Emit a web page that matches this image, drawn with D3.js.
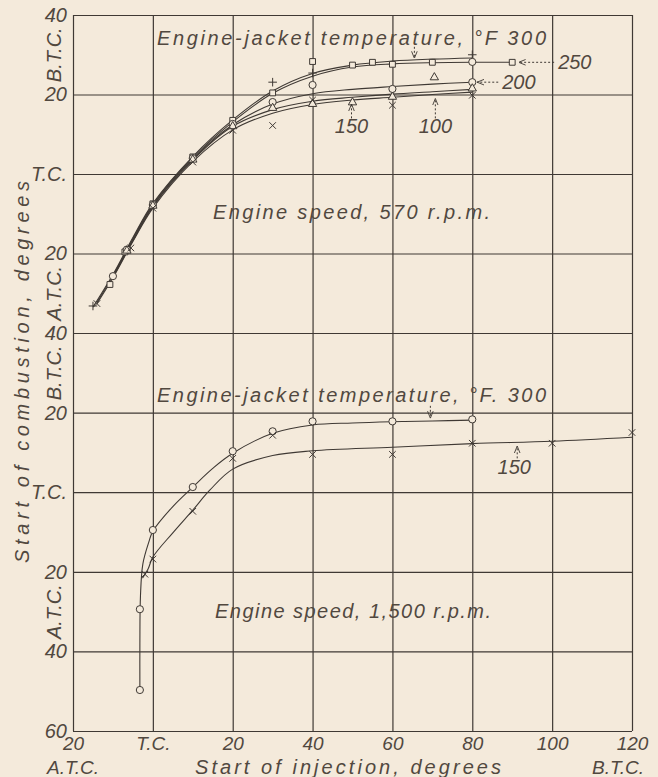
<!DOCTYPE html>
<html>
<head>
<meta charset="utf-8">
<script src="https://cdn.jsdelivr.net/npm/d3@7"></script>
<style>
body { margin: 0; background: #f4eadb; }
svg { display: block; }
text { font-family: "Liberation Sans", Arial, sans-serif; font-style: italic; fill: #51483f; }
</style>
</head>
<body>
<script>
const width = 658;
const height = 777;
const ink = '#3f3934';
const paper = '#f4eadb';

// axis ticks and labels
const xTicks = [-20, 0, 20, 40, 60, 80, 100, 120];
const xTickLabels = ['20', 'T.C.', '20', '40', '60', '80', '100', '120'];
const topTicks = [40, 20, 0, -20, -40];
const topTickLabels = ['40', '20', 'T.C.', '20', '40'];
const botTicks = [20, 0, -20, -40, -60];
const botTickLabels = ['20', 'T.C.', '20', '40', '60'];

// 570 r.p.m. : [start of injection, start of combustion] (B.T.C. positive)
const s300Curve = [[-15,-33.5],[-10,-25.3],[-5,-16],[0,-7.4],[10,4.4],[20,13.6],[30,20.9],[40,25.3],[50,27.4],[60,28.4],[70,28.9],[80,29.2]];
const s300Marks = [[-15,-33.2],[30,23.1],[40,25.4],[80,30]];
const s250Curve = [[-14,-32.3],[-10,-25.6],[-5,-16.3],[0,-7.7],[10,4.1],[20,13.1],[30,20.3],[40,24.6],[50,26.9],[60,27.7],[70,28],[80,28.1],[90,28.1]];
const s250Marks = [[-10.75,-27.8],[-7,-19.6],[0,-7.5],[10,4.3],[20,13.5],[30,20.4],[40,28.3],[50,27.4],[55,28.1],[60,27.6],[70,28.1],[90,28.1]];
const s200Curve = [[-10,-25.9],[-5,-16.6],[0,-8],[10,3.8],[20,12.4],[30,17.6],[40,20.2],[50,21.3],[60,22],[70,22.6],[80,23.1]];
const s200Marks = [[-10,-25.7],[-6.5,-19],[0,-7.8],[10,4],[20,12.6],[30,18.1],[40,22.4],[60,21.4],[80,23.1],[80,28.2]];
const s150Curve = [[-10,-26],[-5,-16.8],[0,-8.2],[10,3.5],[20,12],[30,16.2],[40,18.3],[50,19.3],[60,20.1],[70,20.7],[80,21.3]];
const s150Marks = [[-6.5,-19.3],[0,-8],[10,3.6],[20,12],[30,16.6],[40,17.6],[50,18],[60,19.4],[70.5,24.3],[80,21.5]];
const s100Curve = [[-14,-32.6],[-10,-26.1],[-5,-17],[0,-8.6],[10,3.1],[20,11.1],[30,15.3],[40,17.5],[50,18.6],[60,19.3],[70,20],[80,20.6]];
const s100Marks = [[-14,-32.6],[-5.5,-18.6],[0,-8.6],[10,3],[20,11],[30,12.2],[40,18.6],[60,17.3],[80,19.8]];

// 1,500 r.p.m.
const f300Curve = [[-3.25,-50],[-3.25,-38],[-3.1,-26],[-2.5,-18],[-1,-12.5],[0,-9.8],[5,-3.6],[10,1.3],[15,6],[20,9.8],[30,14.8],[40,16.9],[50,17.4],[60,17.7],[70,17.9],[80,18.1]];
const f300Marks = [[-3.25,-49.7],[-3.25,-29.4],[0,-9.5],[10,1.3],[20,10.3],[30,15.3],[40,17.8],[60,17.8],[80,18.3]];
const f150Curve = [[-2.6,-21.6],[-1.2,-19.3],[0,-16.3],[5,-10.2],[10,-4.5],[14.25,0.5],[20,5.8],[30,9.2],[40,10.4],[60,11.3],[80,12.2],[100,12.8],[120,13.8]];
const f150Marks = [[-2,-20.6],[0,-16.8],[10,-4.8],[20,8.5],[30,14.3],[40,9.5],[60,9.5],[80,12.3],[100,12.3],[120,15]];

const x = d3.scaleLinear().domain([-20, 120]).range([73, 632]);
const yTop = d3.scaleLinear().domain([40, -40]).range([15, 333]);
const yBot = d3.scaleLinear().domain([40, -60]).range([333, 731]);

const svg = d3.select('body').append('svg')
    .attr('width', width)
    .attr('height', height);

svg.append('rect').attr('width', width).attr('height', height).attr('fill', paper);

const defs = svg.append('defs');
defs.append('marker')
    .attr('id', 'head')
    .attr('viewBox', '0 0 10 10')
    .attr('refX', 10).attr('refY', 5)
    .attr('markerWidth', 7).attr('markerHeight', 7)
    .attr('markerUnits', 'userSpaceOnUse')
    .attr('orient', 'auto')
    .append('path')
    .attr('d', 'M0,1 L10,5 L0,9')
    .attr('fill', 'none')
    .attr('stroke', ink)
    .attr('stroke-width', 1.3);

// grid
const grid = svg.append('g');
grid.append('g')
    .attr('transform', `translate(0,${yBot(-60)})`)
    .call(d3.axisBottom(x).tickValues(xTicks).tickSize(-(yBot(-60) - yTop(40))).tickFormat(''));
grid.append('g')
    .attr('transform', `translate(${x(-20)},0)`)
    .call(d3.axisLeft(yTop).tickValues(topTicks).tickSize(-(x(120) - x(-20))).tickFormat(''));
grid.append('g')
    .attr('transform', `translate(${x(-20)},0)`)
    .call(d3.axisLeft(yBot).tickValues(botTicks).tickSize(-(x(120) - x(-20))).tickFormat(''));
grid.selectAll('.domain').remove();
grid.selectAll('line').attr('stroke', ink).attr('stroke-width', 1.2);

// tick labels
const xAxis = svg.append('g')
    .attr('transform', `translate(0,${yBot(-60)})`)
    .call(d3.axisBottom(x).tickValues(xTicks).tickSize(0).tickPadding(6)
        .tickFormat((d, i) => xTickLabels[i]));
const yAxisTop = svg.append('g')
    .attr('transform', `translate(${x(-20)},0)`)
    .call(d3.axisLeft(yTop).tickValues(topTicks).tickSize(0).tickPadding(6)
        .tickFormat((d, i) => topTickLabels[i]));
const yAxisBot = svg.append('g')
    .attr('transform', `translate(${x(-20)},0)`)
    .call(d3.axisLeft(yBot).tickValues(botTicks).tickSize(0).tickPadding(6)
        .tickFormat((d, i) => botTickLabels[i]));
[xAxis, yAxisTop, yAxisBot].forEach(g => {
  g.select('.domain').remove();
  g.attr('font-family', null).attr('font-size', null);
  g.selectAll('text').attr('fill', null).style('font-size', '20px');
});
xAxis.selectAll('text').style('font-size', '19px');

// side labels
const side = [[yTop, 30, 'B.T.C.'], [yTop, -30, 'A.T.C.'], [yBot, 30, 'B.T.C.'], [yBot, -30, 'A.T.C.']];
svg.selectAll('.side')
    .data(side)
    .join('text')
    .attr('transform', d => `translate(61,${d[0](d[1])}) rotate(-90)`)
    .attr('text-anchor', 'middle')
    .style('font-size', '20px')
    .text(d => d[2]);

svg.append('text')
    .attr('x', x(-20)).attr('y', 774)
    .attr('text-anchor', 'middle')
    .style('font-size', '19px')
    .text('A.T.C.');
svg.append('text')
    .attr('x', 618).attr('y', 774)
    .attr('text-anchor', 'middle')
    .style('font-size', '19px')
    .text('B.T.C.');
svg.append('text')
    .attr('x', 195).attr('y', 774)
    .attr('textLength', 306)
    .attr('lengthAdjust', 'spacing')
    .style('font-size', '20px')
    .text('Start of injection, degrees');
svg.append('text')
    .attr('transform', 'translate(29,563) rotate(-90)')
    .attr('textLength', 382)
    .attr('lengthAdjust', 'spacing')
    .style('font-size', '20px')
    .text('Start of combustion, degrees');

// curves and points
const series = [
  {curve: s300Curve, marks: s300Marks, shape: 'plus', y: yTop},
  {curve: s250Curve, marks: s250Marks, shape: 'square', y: yTop},
  {curve: s200Curve, marks: s200Marks, shape: 'circle', y: yTop},
  {curve: s150Curve, marks: s150Marks, shape: 'triangle', y: yTop},
  {curve: s100Curve, marks: s100Marks, shape: 'times', y: yTop},
  {curve: f300Curve, marks: f300Marks, shape: 'circle', y: yBot},
  {curve: f150Curve, marks: f150Marks, shape: 'times', y: yBot}
];

const symbols = {
  plus: d3.symbol().type(d3.symbolPlus || d3.symbolCross).size(26),
  square: d3.symbol().type(d3.symbolSquare).size(34),
  triangle: d3.symbol().type(d3.symbolTriangle).size(30),
  times: d3.symbol().type(d3.symbolTimes || d3.symbolCross).size(30)
};

series.forEach(s => {
  const line = d3.line()
      .x(d => x(d[0]))
      .y(d => s.y(d[1]))
      .curve(d3.curveCatmullRom.alpha(0.5));
  svg.append('path')
      .datum(s.curve)
      .attr('d', line)
      .attr('fill', 'none')
      .attr('stroke', ink)
      .attr('stroke-width', 1.1);
});

series.forEach(s => {
  const g = svg.append('g');
  if (s.shape === 'circle') {
    g.selectAll('circle')
        .data(s.marks)
        .join('circle')
        .attr('cx', d => x(d[0]))
        .attr('cy', d => s.y(d[1]))
        .attr('r', 3.6)
        .attr('fill', paper)
        .attr('stroke', ink)
        .attr('stroke-width', 1);
  } else {
    const open = s.shape === 'square' || s.shape === 'triangle';
    g.selectAll('path')
        .data(s.marks)
        .join('path')
        .attr('transform', d => `translate(${x(d[0])},${s.y(d[1])})`)
        .attr('d', symbols[s.shape])
        .attr('fill', open ? paper : 'none')
        .attr('stroke', ink)
        .attr('stroke-width', 1);
  }
});

// annotations
const notes = [
  {y: yTop, from: [65.5, 32], to: [65.5, 29.1]},
  {y: yTop, from: [100.5, 28.1], to: [91.6, 28.1]},
  {y: yTop, from: [86.5, 23.1], to: [81.2, 23.1]},
  {y: yTop, from: [49.75, 14.0], to: [49.75, 17.6]},
  {y: yTop, from: [70.75, 14.0], to: [70.75, 19.0]},
  {y: yBot, from: [69.5, 21.7], to: [69.5, 18.6]},
  {y: yBot, from: [91.25, 8.5], to: [91.25, 11.6]}
];
notes.forEach(n => {
  svg.append('line')
      .attr('x1', x(n.from[0])).attr('y1', n.y(n.from[1]))
      .attr('x2', x(n.to[0])).attr('y2', n.y(n.to[1]))
      .attr('stroke', ink)
      .attr('stroke-width', 1)
      .attr('stroke-dasharray', '2,2')
      .attr('marker-end', 'url(#head)');
});

const labels = [
  {x: 101.5, y: yTop(28.1) + 7, anchor: 'start', text: '250'},
  {x: 87.5, y: yTop(23.1) + 7, anchor: 'start', text: '200'},
  {x: 49.75, y: yTop(14) + 15, anchor: 'middle', text: '150'},
  {x: 70.75, y: yTop(14) + 15, anchor: 'middle', text: '100'},
  {x: 90.5, y: yBot(8.5) + 16, anchor: 'middle', text: '150'}
];
svg.selectAll('.lab')
    .data(labels)
    .join('text')
    .attr('x', d => x(d.x))
    .attr('y', d => d.y)
    .attr('text-anchor', d => d.anchor)
    .style('font-size', '20px')
    .text(d => d.text);

const captions = [
  {x: 157, y: 45, len: 389, text: 'Engine-jacket temperature, °F 300'},
  {x: 213, y: 219, len: 277, text: 'Engine speed, 570 r.p.m.'},
  {x: 157, y: 402, len: 389, text: 'Engine-jacket temperature, °F. 300'},
  {x: 215, y: 618, len: 276, text: 'Engine speed, 1,500 r.p.m.'}
];
svg.selectAll('.cap')
    .data(captions)
    .join('text')
    .attr('x', d => d.x)
    .attr('y', d => d.y)
    .attr('textLength', d => d.len)
    .attr('lengthAdjust', 'spacing')
    .style('font-size', '20px')
    .text(d => d.text);
</script>
</body>
</html>
